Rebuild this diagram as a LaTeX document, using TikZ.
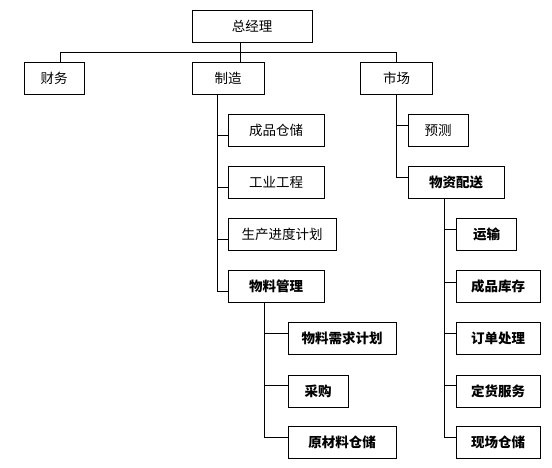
\documentclass[tikz,border=0pt]{standalone}
\usepackage{fontspec}
\setmainfont{Noto Sans CJK SC}
\begin{document}
\begin{tikzpicture}[x=1pt,y=-1pt,
  box/.style={draw,line width=0.9pt,minimum height=32pt,inner sep=0pt,font=\fontsize{13.5}{15}\selectfont},
  bbox/.style={box,font=\fontsize{13.5}{15}\selectfont\bfseries},
  ln/.style={line width=0.9pt}]
\useasboundingbox (0,0) rectangle (552,468);
% top levels
\node[box,minimum width=120pt] (gm) at (252,26) {总经理};
\node[box,minimum width=60pt] (cw) at (54,78) {财务};
\node[box,minimum width=72pt] (zz) at (228,78) {制造};
\node[box,minimum width=72pt] (sc) at (396.5,78) {市场};
% manufacturing column
\node[box,minimum width=96pt] (cp) at (276,130) {成品仓储};
\node[box,minimum width=96pt] (gy) at (276,182) {工业工程};
\node[box,minimum width=108pt] (sj) at (282,234) {生产进度计划};
\node[bbox,minimum width=96pt] (wl) at (276,286) {物料管理};
\node[bbox,minimum width=108pt] (xq) at (342,338) {物料需求计划};
\node[bbox,minimum width=60pt] (cg) at (318,391) {采购};
\node[bbox,minimum width=108pt] (yl) at (342,442) {原材料仓储};
% market column
\node[box,minimum width=60pt] (yc) at (438,130) {预测};
\node[bbox,minimum width=96pt] (wz) at (456,182) {物资配送};
\node[bbox,minimum width=60pt] (ys) at (486.5,234) {运输};
\node[bbox,minimum width=84pt] (kc) at (498,286) {成品库存};
\node[bbox,minimum width=84pt] (dd) at (498,338) {订单处理};
\node[bbox,minimum width=84pt] (dh) at (498,391) {定货服务};
\node[bbox,minimum width=84pt] (xc) at (498,442) {现场仓储};
% bus coordinates
\coordinate (b1) at (60,52);
\coordinate (b2) at (240,52);
\coordinate (b3) at (396.5,52);
\coordinate (tz) at (217,0);
\coordinate (tw) at (264,0);
\coordinate (tm) at (396.5,0);
\coordinate (tp) at (444,0);
% top connectors
\draw[ln] (gm.south -| b2) -- (zz.north -| b2);
\draw[ln] (cw.north -| b1) -- (b1) -- (b3) -- (sc.north);
% manufacturing
\draw[ln] (zz.south -| tz) |- ([yshift=-5pt]wl.west);
\draw[ln] (tz |- cp.west) ++(0,5) -- ([yshift=-5pt]cp.west);
\draw[ln] (tz |- gy.west) ++(0,5) -- ([yshift=-5pt]gy.west);
\draw[ln] (tz |- sj.west) ++(0,5) -- ([yshift=-5pt]sj.west);
\draw[ln] (wl.south -| tw) |- ([yshift=5pt]yl.west);
\draw[ln] (tw |- xq.west) ++(0,-5) -- ([yshift=5pt]xq.west);
\draw[ln] (tw |- cg.west) ++(0,-6) -- ([yshift=6pt]cg.west);
% market
\draw[ln] (sc.south) |- ([yshift=5pt]wz.west);
\draw[ln] (tm |- yc.west) ++(0,-5) -- ([yshift=5pt]yc.west);
\draw[ln] (wz.south -| tp) |- ([yshift=5pt]xc.west);
\draw[ln] (tp |- ys.west) ++(0,-5) -- ([yshift=5pt]ys.west);
\draw[ln] (tp |- kc.west) ++(0,-4) -- ([yshift=4pt]kc.west);
\draw[ln] (tp |- dd.west) ++(0,-5) -- ([yshift=5pt]dd.west);
\draw[ln] (tp |- dh.west) ++(0,-6) -- ([yshift=6pt]dh.west);
\end{tikzpicture}
\end{document}
